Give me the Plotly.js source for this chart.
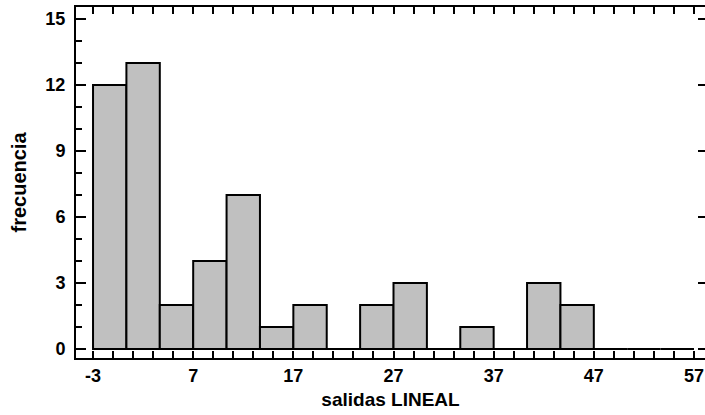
<!DOCTYPE html>
<html><head><meta charset="utf-8">
<script src="https://cdn.plot.ly/plotly-3.0.1.min.js"></script>
<style>html,body{margin:0;padding:0;background:#fff;overflow:hidden}</style>
</head><body><div id="chart" style="width:705px;height:415px"></div>
<script>
// bin layout of the histogram
const binStart = -3;
const binSize = 10 / 3;
// frequency per bin
const frecuencia = [12, 13, 2, 4, 7, 1, 2, 0, 2, 3, 0, 1, 0, 3, 2, 0, 0, 0];
// tick labels
const xTickVals = [-3, 7, 17, 27, 37, 47, 57];
const yTickVals = [0, 3, 6, 9, 12, 15];
const xTitle = 'salidas LINEAL';
const yTitle = 'frecuencia';

const centers = frecuencia.map((_, i) => binStart + binSize * (i + 0.5));
const fontFam = '"Liberation Sans", Arial, sans-serif';
const yRange = [-0.41, 15.55];

const trace = {
  type: 'bar',
  x: centers,
  y: frecuencia,
  width: frecuencia.map(() => binSize),
  marker: {color: '#c0c0c0', line: {color: '#000', width: 2}},
  hoverinfo: 'x+y'
};
// empty helper trace so the right-hand tick axis is drawn
const rightTicks = {type: 'scatter', mode: 'markers', x: [], y: [], yaxis: 'y2', hoverinfo: 'skip', showlegend: false};

const layout = {
  width: 705, height: 415,
  margin: {l: 76, r: 0, t: 7, b: 57, pad: 0},
  paper_bgcolor: '#fff', plot_bgcolor: '#fff',
  showlegend: false,
  bargap: 0,
  font: {family: fontFam, size: 18, color: '#000', weight: 'bold'},
  xaxis: {
    range: [-4.7, 58.1],
    tickmode: 'array', tickvals: xTickVals, ticktext: xTickVals.map(String),
    ticks: 'inside', ticklen: 7, tickwidth: 2, tickcolor: '#000',
    minor: {tick0: -3, dtick: 2, ticks: 'inside', ticklen: 3, tickwidth: 2, tickcolor: '#000'},
    showline: true, linecolor: '#000', linewidth: 2, mirror: 'allticks',
    showgrid: false, zeroline: false,
    tickfont: {family: fontFam, size: 18, weight: 'bold'},
    title: {text: xTitle, font: {family: fontFam, size: 19, weight: 'bold'}, standoff: 8},
    fixedrange: true
  },
  yaxis: {
    range: yRange,
    tickmode: 'array', tickvals: yTickVals, ticktext: yTickVals.map(String),
    ticks: 'inside', ticklen: 10, tickwidth: 2, tickcolor: '#000',
    minor: {tick0: 0, dtick: 1, ticks: 'inside', ticklen: 6, tickwidth: 2, tickcolor: '#000'},
    showline: true, linecolor: '#000', linewidth: 2, mirror: false,
    showgrid: false, zeroline: false,
    ticklabelstandoff: 5,
    tickfont: {family: fontFam, size: 18, weight: 'bold'},
    title: {text: yTitle, font: {family: fontFam, size: 20, weight: 'bold'}, standoff: 13},
    fixedrange: true
  },
  yaxis2: {
    overlaying: 'y', side: 'right', anchor: 'x',
    range: yRange, autorange: false,
    tickmode: 'array', tickvals: yTickVals, showticklabels: false,
    ticks: 'inside', ticklen: 7, tickwidth: 2, tickcolor: '#000',
    showline: false, showgrid: false, zeroline: false,
    fixedrange: true
  }
};

Plotly.newPlot('chart', [trace, rightTicks], layout, {displayModeBar: false, staticPlot: true});
</script>
</body></html>
